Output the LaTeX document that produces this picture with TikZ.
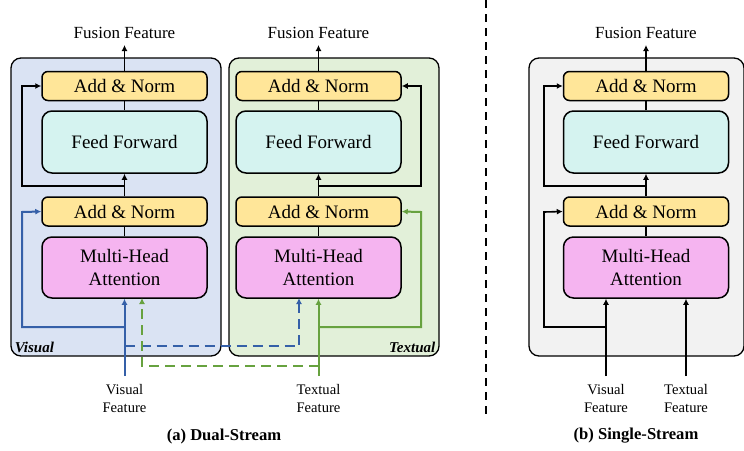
\documentclass[tikz,border=0pt]{standalone}
\usepackage{fontspec}
\setmainfont{Liberation Serif}
\usepackage{xcolor}
\usepackage{tikz}
\usetikzlibrary{arrows.meta,positioning}

\definecolor{panelblue}{HTML}{DAE3F3}
\definecolor{panelgreen}{HTML}{E2F0D9}
\definecolor{panelgray}{HTML}{F2F2F2}
\definecolor{normyellow}{HTML}{FFE699}
\definecolor{ffcyan}{HTML}{D5F3F0}
\definecolor{mhapink}{HTML}{F5B4F0}
\definecolor{vblue}{HTML}{3560A8}
\definecolor{tgreen}{HTML}{67A23F}

\begin{document}
\begin{tikzpicture}
      [ x=0.5pt, y=-0.5pt,
        panel/.style={draw, line width=0.65pt, rounded corners=5pt,
          minimum width=105pt, minimum height=149pt},
        block/.style={draw, line width=0.75pt, minimum width=82.5pt,
          font=\fontsize{9.5}{11.5}\selectfont, align=center},
        norm/.style={block, fill=normyellow, rounded corners=3pt, minimum height=14.5pt},
        ffn/.style={block, fill=ffcyan, rounded corners=5pt, minimum height=31pt},
        mha/.style={block, fill=mhapink, rounded corners=5pt, minimum height=30.5pt},
        outlabel/.style={anchor=south, inner sep=3pt, font=\fontsize{8.5}{10}\selectfont},
        inlabel/.style={anchor=north, inner sep=4pt, align=center,
          font=\fontsize{7.3}{9}\selectfont},
        tag/.style={inner sep=2pt, font=\fontsize{7.5}{9}\selectfont\bfseries\itshape},
        caption/.style={font=\fontsize{8.3}{10}\selectfont\bfseries},
        arr/.style={line width=0.8pt, -{Latex[length=3pt,width=3pt]}},
        line/.style={line width=0.8pt},
        varr/.style={arr, vblue, line width=1pt},
        tarr/.style={arr, tgreen, line width=1pt},
        cross/.style={dash pattern=on 5pt off 3pt}
      ]
      \useasboundingbox (0,0) rectangle (744,450);

      \node[panel, fill=panelblue]  (vpanel) at (116,207) {};
      \node[panel, fill=panelgreen] (tpanel) at (334,207) {};
      \node[panel, fill=panelgray, minimum width=107.5pt] (spanel) at (636.5,207) {};
      \node[tag, anchor=south west] at (vpanel.south west) {Visual};
      \node[tag, anchor=south east] at (tpanel.south east) {Textual};

      \node[norm] (vadd2) at (124.5,86)    {Add \& Norm};
      \node[ffn]  (vff)   at (124.5,142)   {Feed Forward};
      \node[norm] (vadd1) at (124.5,211.5) {Add \& Norm};
      \node[mha]  (vmha)  at (124.5,267.5) {Multi-Head\\Attention};

      \node[norm] (tadd2) at (318.5,86)    {Add \& Norm};
      \node[ffn]  (tff)   at (318.5,142)   {Feed Forward};
      \node[norm] (tadd1) at (318.5,211.5) {Add \& Norm};
      \node[mha]  (tmha)  at (318.5,267.5) {Multi-Head\\Attention};

      \node[norm] (sadd2) at (646,86)    {Add \& Norm};
      \node[ffn]  (sff)   at (646,142)   {Feed Forward};
      \node[norm] (sadd1) at (646,211.5) {Add \& Norm};
      \node[mha]  (smha)  at (646,267.5) {Multi-Head\\Attention};

      \node[outlabel] (vout) at (124.5,45) {Fusion Feature};
      \node[outlabel] (tout) at (318.5,45) {Fusion Feature};
      \node[outlabel] (sout) at (646,45)   {Fusion Feature};

      \coordinate (vin)     at (124.5,376);
      \coordinate (vsplit)  at (124.5,186);
      \coordinate (vloop)   at (22,86);
      \coordinate (vbranch) at (124.5,327);
      \coordinate (vloop1)  at (22,212);
      \coordinate (vdash)   at (124.5,346);
      \coordinate (vcross)  at (142,298);

      \coordinate (tin)     at (318.5,376);
      \coordinate (tsplit)  at (318.5,186);
      \coordinate (tloop)   at (421,86);
      \coordinate (tbranch) at (318.5,327);
      \coordinate (tloop1)  at (421,212);
      \coordinate (tdash)   at (318.5,366);
      \coordinate (tcross)  at (299,298);

      \coordinate (svin)    at (606,376);
      \coordinate (stin)    at (686,376);
      \coordinate (ssplit)  at (646,186);
      \coordinate (sloop)   at (544,86);
      \coordinate (sbranch) at (606,327);
      \coordinate (sloop1)  at (544,212);

      \node[inlabel] (vfeat)  at (vin)  {Visual\\Feature};
      \node[inlabel] (tfeat)  at (tin)  {Textual\\Feature};
      \node[inlabel] (svfeat) at (svin) {Visual\\Feature};
      \node[inlabel] (stfeat) at (stin) {Textual\\Feature};

      % visual stream
      \draw[arr]  (vadd2) -- (vout);
      \draw[line] (vff) -- (vadd2);
      \draw[arr]  (vadd1) -- (vff);
      \draw[line] (vmha) -- (vadd1);
      \draw[arr]  (vsplit) -| (vloop) -- (vadd2.west);
      \draw[varr] (vin) -- (vmha.south);
      \draw[varr] (vbranch) -| (vloop1) -- (vadd1.west);
      \draw[varr, cross] (vdash) -| (tcross);

      % textual stream
      \draw[arr]  (tadd2) -- (tout);
      \draw[line] (tff) -- (tadd2);
      \draw[arr]  (tadd1) -- (tff);
      \draw[line] (tmha) -- (tadd1);
      \draw[arr]  (tsplit) -| (tloop) -- (tadd2.east);
      \draw[tarr] (tin) -- (tmha.south);
      \draw[tarr] (tbranch) -| (tloop1) -- (tadd1.east);
      \draw[tarr, cross] (tdash) -| (vcross);

      % single stream
      \draw[arr]  (sadd2) -- (sout);
      \draw[line] (sff) -- (sadd2);
      \draw[arr]  (sadd1) -- (sff);
      \draw[line] (smha) -- (sadd1);
      \draw[arr]  (ssplit) -| (sloop) -- (sadd2.west);
      \draw[arr]  (svin) -- (svin |- smha.south);
      \draw[arr]  (stin) -- (stin |- smha.south);
      \draw[arr]  (sbranch) -| (sloop1) -- (sadd1.west);

      \draw[line width=0.65pt, dash pattern=on 4pt off 3pt] (486,0) -- (486,415);

      \node[caption] (vcap) at (224,436) {(a) Dual-Stream};
      \node[caption] (scap) at (636,436) {(b) Single-Stream};
    \end{tikzpicture}
\end{document}
